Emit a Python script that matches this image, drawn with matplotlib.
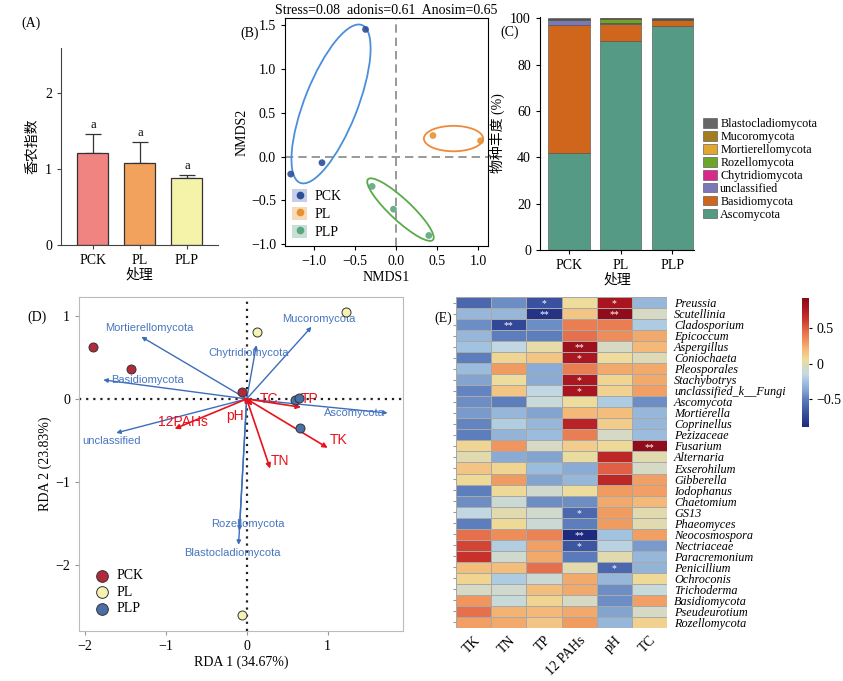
import numpy as np
import matplotlib
matplotlib.use('Agg')
import matplotlib.pyplot as plt
from matplotlib.patches import Ellipse, Patch
from matplotlib.lines import Line2D
from matplotlib.colors import LinearSegmentedColormap

plt.rcParams['font.family'] = ['Liberation Serif', 'Noto Sans CJK SC']
plt.rcParams['font.size'] = 9
plt.rcParams['axes.unicode_minus'] = True

groups = ['PCK', 'PL', 'PLP']

# (A) shannon index
shannon = [1.21, 1.08, 0.88]
shannon_err = [0.26, 0.28, 0.05]
shannon_sig = ['a', 'a', 'a']
bar_colors = ['#F08481', '#F2A25C', '#F4F3A9']

# (B) NMDS
nmds_group = ['PCK', 'PCK', 'PCK', 'PL', 'PL', 'PLP', 'PLP', 'PLP']
nmds1 = [-0.37, -0.90, -1.28, 0.45, 1.03, -0.29, -0.03, 0.40]
nmds2 = [1.45, -0.07, -0.20, 0.24, 0.18, -0.34, -0.60, -0.90]
ell_cx = [-0.79, 0.70, 0.055]
ell_cy = [0.60, 0.205, -0.605]
ell_w = [1.95, 0.72, 1.05]
ell_h = [0.64, 0.29, 0.25]
ell_angle = [67, 0, -41]
nmds_title = 'Stress=0.08  adonis=0.61  Anosim=0.65'

# (C) phylum composition (%), stacked bottom -> top
phyla = ['Ascomycota', 'Basidiomycota', 'unclassified', 'Chytridiomycota',
         'Rozellomycota', 'Mortierellomycota', 'Mucoromycota', 'Blastocladiomycota']
phyla_colors = ['#549A85', '#D0661C', '#7C78B8', '#D8298A',
                '#6BA52A', '#E0A830', '#A47D1E', '#666666']
abund_pck = [42.0, 55.0, 2.3, 0.1, 0.1, 0.1, 0.1, 0.3]
abund_pl = [90.0, 7.3, 0.6, 0.1, 1.5, 0.2, 0.2, 0.1]
abund_plp = [96.5, 2.8, 0.1, 0.0, 0.1, 0.0, 0.1, 0.4]

# (D) RDA
rda_group = ['PCK', 'PCK', 'PCK', 'PL', 'PL', 'PL', 'PLP', 'PLP', 'PLP']
rda1 = [-1.90, -1.43, -0.06, 1.23, 0.13, -0.06, 0.60, 0.65, 0.66]
rda2 = [0.63, 0.36, 0.08, 1.05, 0.81, -2.61, -0.01, 0.01, -0.35]
rda_colors = {'PCK': '#B02A3B', 'PL': '#F5F2B2', 'PLP': '#4A6FA8'}
sp_names = ['Mortierellomycota', 'Basidiomycota', 'unclassified', 'Chytridiomycota',
            'Mucoromycota', 'Ascomycota', 'Rozellomycota', 'Blastocladiomycota']
sp_x = [-1.30, -1.77, -1.61, 0.12, 0.80, 1.74, -0.09, -0.10]
sp_y = [0.75, 0.23, -0.41, 0.65, 0.87, -0.17, -1.59, -1.76]
sp_lx = [-1.20, -1.23, -1.67, 0.02, 0.89, 1.33, 0.02, -0.18]
sp_ly = [0.85, 0.23, -0.51, 0.55, 0.96, -0.17, -1.51, -1.86]
env_names = ['TC', 'TP', 'TK', 'TN', 'pH', '12PAHs']
env_x = [0.07, 0.67, 1.00, 0.29, -0.02, -0.89]
env_y = [-0.08, -0.10, -0.59, -0.84, -0.07, -0.36]
env_lx = [0.28, 0.78, 1.13, 0.41, -0.14, -0.79]
env_ly = [0.0, 0.0, -0.49, -0.75, -0.20, -0.28]

# (E) correlation heatmap
genera = ['Preussia', 'Scutellinia', 'Cladosporium', 'Epicoccum', 'Aspergillus',
          'Coniochaeta', 'Pleosporales', 'Stachybotrys', 'unclassified_k__Fungi',
          'Ascomycota', 'Mortierella', 'Coprinellus', 'Pezizaceae', 'Fusarium',
          'Alternaria', 'Exserohilum', 'Gibberella', 'Iodophanus', 'Chaetomium',
          'GS13', 'Phaeomyces', 'Neocosmospora', 'Nectriaceae', 'Paracremonium',
          'Penicillium', 'Ochroconis', 'Trichoderma', 'Basidiomycota',
          'Pseudeurotium', 'Rozellomycota']
env_cols = ['TK', 'TN', 'TP', '12 PAHs', 'pH', 'TC']
corr = [
    [-0.60, -0.45, -0.70, 0.05, 0.80, -0.30],
    [-0.30, -0.30, -0.85, 0.15, 0.90, -0.05],
    [-0.45, -0.75, -0.45, 0.40, 0.40, -0.22],
    [-0.30, -0.50, -0.50, 0.45, 0.35, 0.25],
    [-0.25, -0.15, 0.02, 0.85, -0.05, 0.20],
    [-0.50, 0.08, 0.15, 0.78, 0.05, -0.02],
    [-0.28, 0.30, -0.35, 0.40, 0.25, 0.25],
    [-0.38, 0.05, -0.35, 0.78, 0.08, 0.25],
    [-0.48, 0.15, -0.15, 0.80, 0.10, 0.28],
    [-0.45, -0.50, -0.12, 0.05, -0.22, -0.45],
    [-0.42, -0.30, -0.38, 0.20, 0.18, -0.30],
    [-0.48, -0.20, -0.30, 0.72, 0.12, -0.30],
    [-0.50, -0.32, -0.28, 0.40, -0.05, -0.28],
    [0.08, 0.32, -0.05, 0.12, 0.06, 0.90],
    [0.00, -0.35, -0.38, 0.03, 0.70, 0.00],
    [0.15, 0.08, -0.28, -0.35, 0.50, -0.05],
    [0.06, 0.30, -0.38, -0.30, 0.70, 0.28],
    [-0.50, 0.06, -0.08, 0.05, 0.30, 0.28],
    [-0.45, -0.10, -0.45, -0.45, 0.25, 0.20],
    [-0.15, 0.00, -0.08, -0.60, 0.30, 0.00],
    [-0.50, 0.06, -0.10, -0.50, 0.30, 0.00],
    [0.45, 0.35, 0.38, -0.90, -0.25, 0.28],
    [0.58, -0.20, 0.28, -0.68, -0.18, -0.42],
    [0.65, -0.08, 0.25, -0.52, 0.00, -0.30],
    [0.18, 0.18, 0.45, 0.00, -0.60, -0.32],
    [0.08, -0.22, -0.10, 0.25, -0.30, 0.06],
    [-0.05, -0.08, 0.18, 0.25, -0.45, -0.12],
    [0.32, -0.12, 0.08, -0.05, -0.45, 0.28],
    [0.45, 0.22, 0.20, 0.25, -0.38, -0.05],
    [0.28, 0.25, 0.15, 0.30, -0.30, 0.10],
]
sig_row = [0, 0, 1, 1, 2, 4, 5, 7, 8, 13, 19, 21, 22, 24]
sig_col = [2, 4, 2, 4, 1, 3, 3, 3, 3, 5, 3, 3, 3, 4]
sig_txt = ['*', '*', '**', '**', '**', '**', '*', '*', '*', '**', '*', '**', '*', '*']

W, H = 843, 681
fig = plt.figure(figsize=(W / 100, H / 100), dpi=100)


def box(l, t, r, b):
    return [l / W, 1 - b / H, (r - l) / W, (b - t) / H]


# ---------- (A)
axA = fig.add_axes(box(61, 48, 218, 245))
xa = np.arange(3)
axA.bar(xa, shannon, width=0.66, color=bar_colors, edgecolor='#333333', linewidth=0.9, zorder=2)
axA.errorbar(xa, shannon, yerr=[[0, 0, 0], shannon_err], fmt='none', ecolor='#333333',
             elinewidth=0.9, capsize=6, capthick=0.9, zorder=1)
for i in range(3):
    axA.text(xa[i], shannon[i] + shannon_err[i] + 0.04, shannon_sig[i], ha='center', va='bottom', fontsize=9)
axA.set_xlim(-0.68, 2.66)
axA.set_ylim(0, 2.6)
axA.set_yticks([0, 1, 2])
axA.set_xticks(xa)
axA.set_xticklabels(groups)
axA.spines['top'].set_visible(False)
axA.spines['right'].set_visible(False)
for s in ['left', 'bottom']:
    axA.spines[s].set_color('#444444')
axA.set_ylabel('香农指数', fontsize=10)
axA.set_xlabel('处理', fontsize=10, labelpad=1)
axA.tick_params(labelsize=10, length=3, color='#444444')

# ---------- (B)
axB = fig.add_axes(box(285, 18, 488, 246))
pt_col = {'PCK': '#2B4E96', 'PL': '#E8912F', 'PLP': '#5BA77F'}
ell_col = ['#4A8FDB', '#EF8A3A', '#5BAA48']
leg_bg = {'PCK': '#C7CEE5', 'PL': '#F6DAB9', 'PLP': '#C7E0D3'}
for g in groups:
    xs = [x for x, gg in zip(nmds1, nmds_group) if gg == g]
    ys = [y for y, gg in zip(nmds2, nmds_group) if gg == g]
    axB.scatter(xs, ys, s=24, color=pt_col[g], alpha=0.9, zorder=3, edgecolors='none')
for i in range(3):
    axB.add_patch(Ellipse((ell_cx[i], ell_cy[i]), ell_w[i], ell_h[i], angle=ell_angle[i],
                          fill=False, edgecolor=ell_col[i], linewidth=1.3))
axB.axhline(0, color='#888888', ls=(0, (5, 3)), lw=1.2, zorder=0)
axB.axvline(0, color='#888888', ls=(0, (5, 3)), lw=1.2, zorder=0)
axB.set_xlim(-1.35, 1.12)
axB.set_ylim(-1.02, 1.58)
axB.set_xticks([-1.0, -0.5, 0.0, 0.5, 1.0])
axB.set_yticks([-1.0, -0.5, 0.0, 0.5, 1.0, 1.5])
axB.set_xticklabels(['−1.0', '−0.5', '0.0', '0.5', '1.0'])
axB.set_yticklabels(['−1.0', '−0.5', '0.0', '0.5', '1.0', '1.5'])
axB.tick_params(labelsize=10, length=3)
axB.set_xlabel('NMDS1', fontsize=10, labelpad=2)
axB.set_ylabel('NMDS2', fontsize=10, labelpad=2)
axB.set_title(nmds_title, fontsize=10, pad=3)
handles = [(Patch(facecolor=leg_bg[g], edgecolor='none'),
            Line2D([], [], marker='o', ls='none', color=pt_col[g], markersize=4.5)) for g in groups]
axB.legend(handles, groups, loc='lower left', frameon=False, fontsize=10,
           handlelength=1.1, handleheight=1.1, labelspacing=0.25, borderpad=0.3, handletextpad=0.5,
           borderaxespad=0.2)

# ---------- (C)
axC = fig.add_axes(box(540, 17, 694, 250))
xc = np.arange(3)
stack = np.array([abund_pck, abund_pl, abund_plp]).T
bottom = np.zeros(3)
bars = []
for k in range(len(phyla)):
    b = axC.bar(xc, stack[k], bottom=bottom, width=0.8, color=phyla_colors[k],
                edgecolor='#4a4a4a', linewidth=0.4, label=phyla[k])
    bars.append(b)
    bottom += stack[k]
axC.set_xlim(-0.56, 2.42)
axC.set_ylim(0, 100.5)
axC.set_yticks([0, 20, 40, 60, 80, 100])
axC.set_xticks(xc)
axC.set_xticklabels(groups)
axC.spines['top'].set_visible(False)
axC.spines['right'].set_visible(False)
axC.tick_params(labelsize=10, length=3)
axC.set_ylabel('物种丰度 (%)', fontsize=10)
axC.set_xlabel('处理', fontsize=10, labelpad=1)
axC.legend(bars[::-1], phyla[::-1], loc='center left', bbox_to_anchor=(0.99, 0.345),
           frameon=False, fontsize=8.7, handlelength=1.1, handleheight=0.8,
           labelspacing=0.08, handletextpad=0.3)

# ---------- (D)
axD = fig.add_axes(box(79, 297, 403, 631))
axD.axhline(0, color='#222222', ls=(0, (1, 2.2)), lw=1.6, zorder=0)
axD.axvline(0, color='#222222', ls=(0, (1, 2.2)), lw=1.6, zorder=0)
blue = '#3C6DBB'
red = '#E8121C'
for i in range(len(sp_names)):
    axD.annotate('', xy=(sp_x[i], sp_y[i]), xytext=(0, 0),
                 arrowprops=dict(arrowstyle='-|>', color=blue, lw=1.0, mutation_scale=6,
                                 shrinkA=0, shrinkB=0))
    axD.text(sp_lx[i], sp_ly[i], sp_names[i], color='#4775C0', fontsize=8,
             family='Liberation Sans', ha='center', va='center')
for i in range(len(env_names)):
    axD.annotate('', xy=(env_x[i], env_y[i]), xytext=(0, 0),
                 arrowprops=dict(arrowstyle='-|>', color=red, lw=1.2, mutation_scale=7,
                                 shrinkA=0, shrinkB=0))
    axD.text(env_lx[i], env_ly[i], env_names[i], color=red, fontsize=10,
             family='Liberation Sans', ha='center', va='center')
for g in groups:
    xs = [x for x, gg in zip(rda1, rda_group) if gg == g]
    ys = [y for y, gg in zip(rda2, rda_group) if gg == g]
    axD.scatter(xs, ys, s=42, color=rda_colors[g], edgecolors='#333333', linewidths=0.7,
                zorder=4, label=g)
axD.set_xlim(-2.07, 1.93)
axD.set_ylim(-2.80, 1.23)
axD.set_xticks([-2, -1, 0, 1])
axD.set_yticks([-2, -1, 0, 1])
axD.set_xticklabels(['−2', '−1', '0', '1'])
axD.set_yticklabels(['−2', '−1', '0', '1'])
for s in axD.spines.values():
    s.set_color('#BBBBBB')
axD.tick_params(labelsize=10, length=3, color='#999999')
axD.set_xlabel('RDA 1 (34.67%)', fontsize=10, labelpad=2)
axD.set_ylabel('RDA 2 (23.83%)', fontsize=10, labelpad=2)
axD.legend(loc='lower left', bbox_to_anchor=(-0.01, 0.01), frameon=False, fontsize=10,
           markerscale=1.3, labelspacing=0.25, handletextpad=0.0)

# ---------- (E)
heat_cmap = LinearSegmentedColormap.from_list('heat', [
    (0.000, '#1E2A7E'), (0.109, '#3A52A0'), (0.219, '#5E7FBE'), (0.273, '#7FA0CD'),
    (0.355, '#A3C4E0'), (0.410, '#C2D9E3'), (0.464, '#D6D9C3'), (0.519, '#EEDC9A'),
    (0.601, '#F4B978'), (0.656, '#F09A60'), (0.738, '#E6704C'), (0.847, '#C8302A'),
    (0.929, '#A8151F'), (1.000, '#8B0A1A')])
axE = fig.add_axes(box(456, 297, 667, 628))
cm = np.array(corr)
mesh = axE.pcolormesh(np.arange(7), np.arange(31), cm, cmap=heat_cmap, vmin=-0.9, vmax=0.93,
                      edgecolors='#A8A8A8', linewidth=0.5)
axE.set_xlim(0, 6)
axE.set_ylim(30, 0)
for r, c, t in zip(sig_row, sig_col, sig_txt):
    axE.text(c + 0.5, r + 0.62, t, color='white', fontsize=7, ha='center', va='center')
axE.set_yticks(np.arange(30) + 0.5)
axE.set_yticklabels(genera, fontsize=8.8, style='italic')
axE.tick_params(axis='y', left=True, right=False, labelleft=False, labelright=True,
                length=2, pad=3, color='#999999')
axE.set_xticks(np.arange(6) + 0.5)
axE.set_xticklabels(env_cols, rotation=45, ha='right', va='top', rotation_mode='anchor', fontsize=10)
axE.tick_params(axis='x', length=0, pad=4)
for s in axE.spines.values():
    s.set_visible(False)

cax = fig.add_axes(box(802, 298, 809, 427))
cb = fig.colorbar(mesh, cax=cax, ticks=[-0.5, 0, 0.5])
cb.ax.set_yticklabels(['−0.5', '0', '0.5'])
cb.outline.set_visible(False)
cb.ax.tick_params(labelsize=10, length=2)

# panel letters
fig.text(21 / W, 1 - 23 / H, '(A)', fontsize=10, va='center')
fig.text(240 / W, 1 - 33 / H, '(B)', fontsize=10, va='center')
fig.text(500 / W, 1 - 32 / H, '(C)', fontsize=10, va='center')
fig.text(27 / W, 1 - 317 / H, '(D)', fontsize=10, va='center')
fig.text(434 / W, 1 - 318 / H, '(E)', fontsize=10, va='center')

fig.savefig('out.png', dpi=100)
